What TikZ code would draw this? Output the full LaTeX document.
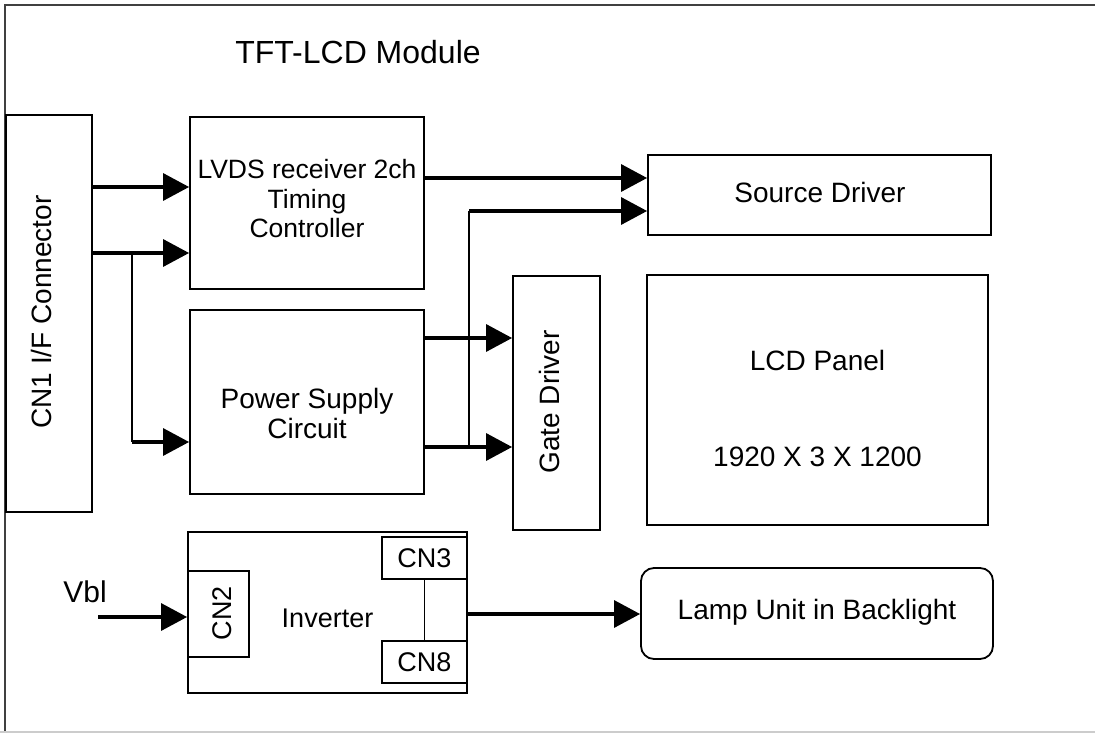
\documentclass[tikz,border=0pt]{standalone}
\usepackage{fontspec}
\setmainfont{Liberation Sans}
\usetikzlibrary{arrows.meta}
\begin{document}
\begin{tikzpicture}[x=1pt,y=-1pt,
  box/.style={draw=black,line width=1.8pt,inner sep=0pt},
  txt/.style={inner sep=0pt,align=center,font=\fontsize{28}{30}\selectfont},
  sig/.style={line width=3.2pt,-{Triangle[length=26pt,width=27pt]}},
  wire/.style={line width=1.6pt},
]
\useasboundingbox (0,0) rectangle (1095,733);
% module frame
\draw[line width=1.5pt,black!75] (5,740) -- (5,5) -- (1100,5);
\draw[line width=1.2pt,black!20] (0,732) -- (1095,732);
\node[inner sep=0pt,font=\fontsize{32}{36}\selectfont] (title) at (358,52) {TFT-LCD Module};

% boxes
\node[box,minimum width=86pt,minimum height=397pt] (conn) at (49,313.5) {};
\node[txt,rotate=90] (conntxt) at (41,312) {CN1 I/F Connector};

\node[box,minimum width=234pt,minimum height=172pt] (lvds) at (307,203) {};
\node[txt,font=\fontsize{26.5}{29.5}\selectfont] (lvdstxt) at (307,199) {LVDS receiver 2ch\\Timing\\Controller};

\node[box,minimum width=234pt,minimum height=184pt] (power) at (307,402) {};
\node[txt] (powertxt) at (307,413) {Power Supply\\Circuit};

\node[box,minimum width=87pt,minimum height=254pt] (gate) at (556.5,403) {};
\node[txt,rotate=90] (gatetxt) at (549,402) {Gate Driver};

\node[box,minimum width=343pt,minimum height=80pt] (source) at (819.5,195) {};
\node[txt] (sourcetxt) at (820,192) {Source Driver};

\node[box,minimum width=341pt,minimum height=250pt] (lcd) at (817.5,400) {};
\node[txt] (lcdtxt) at (817.5,360) {LCD Panel};
\node[txt] (restxt) at (817.5,457) {1920 X 3 X 1200};

\node[box,minimum width=279pt,minimum height=161pt] (inv) at (327.5,612.5) {};
\node[txt,font=\fontsize{27}{30}\selectfont] (invtxt) at (327.5,618) {Inverter};
\node[box,minimum width=61pt,minimum height=86pt] (cn2) at (218.5,614) {};
\node[txt,rotate=90,font=\fontsize{27}{30}\selectfont] (cn2txt) at (222,613) {CN2};
\node[box,minimum width=85pt,minimum height=42pt,font=\fontsize{27}{30}\selectfont] (cn3) at (424.5,558) {CN3};
\node[box,minimum width=85pt,minimum height=42pt,font=\fontsize{27}{30}\selectfont] (cn8) at (424.5,662) {CN8};

\node[box,rounded corners=13pt,minimum width=352pt,minimum height=91pt] (lamp) at (817,613.5) {};
\node[txt] (lamptxt) at (817,612) {Lamp Unit in Backlight};

\node[inner sep=0pt,font=\fontsize{30}{32}\selectfont] (vbl) at (85,592) {Vbl};
\coordinate (vblstart) at (98,617);

% connectors
\draw[sig] (conn.east |- 0,187) -- (lvds.west |- 0,187);
\draw[sig] (conn.east |- 0,253) -- (lvds.west |- 0,253);
\coordinate (br1) at (132,253);
\coordinate (br2) at (132,442);
\draw[wire] (br1) -- (br2);
\draw[sig] (br2) -- (power.west |- br2);

\draw[sig] (lvds.east |- 0,178) -- (source.west |- 0,178);
\coordinate (up1) at (469,447);
\coordinate (up2) at (469,211);
\draw[wire] (up1) -- (up2);
\draw[sig] (up2) -- (source.west |- up2);

\draw[sig] (power.east |- 0,338) -- (gate.west |- 0,338);
\draw[sig] (power.east |- 0,447) -- (gate.west |- 0,447);

\draw[sig] (vblstart) -- (cn2.west |- vblstart);
\draw[wire] (cn3.south) -- (cn8.north);
\draw[sig] (inv.east |- 0,614) -- (lamp.west |- 0,614);
\end{tikzpicture}
\end{document}
